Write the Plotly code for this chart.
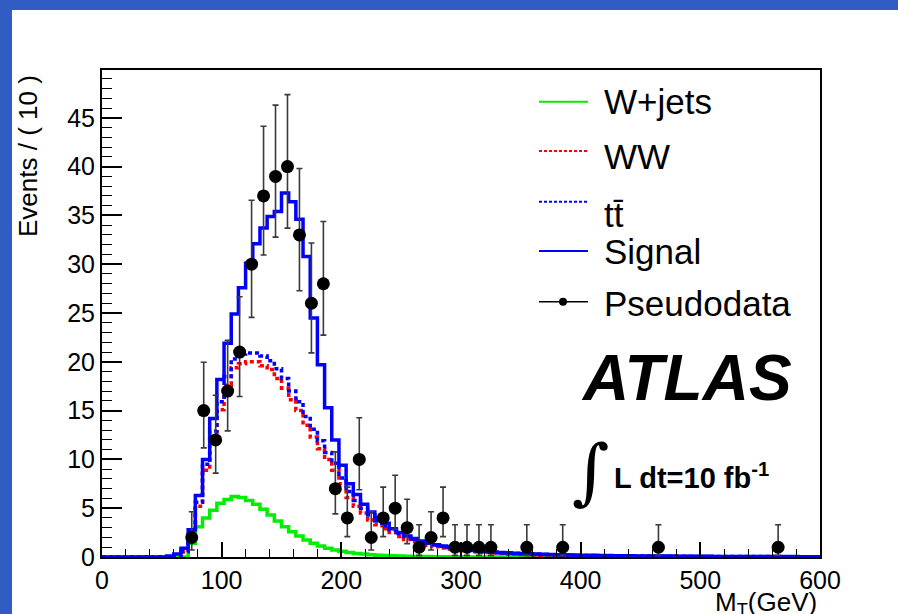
import plotly.graph_objects as go

# MC histograms: 100 bins of 6 GeV from 0 to 600 (cumulative, as drawn)
bin_lo = 0
bin_width = 6
wjets = [
    0, 0, 0, 0, 0, 0, 0, 0, 0, 0,
    0, 0, 1.4, 3.1, 4.0, 4.8, 5.5, 5.9, 6.2, 6.1,
    5.8, 5.4, 4.9, 4.3, 3.7, 3.1, 2.6, 2.15, 1.75, 1.4,
    1.13, 0.9, 0.72, 0.58, 0.46, 0.37, 0.3, 0.24, 0.19, 0.15,
    0.12, 0.1, 0.08, 0.06, 0.05, 0.04, 0.03, 0.03, 0.02, 0.02,
    0.02, 0.01, 0.01, 0.01, 0.01, 0.01, 0.01, 0.01, 0.01, 0.01,
    0.01, 0.01, 0.01, 0.01, 0.01, 0.01, 0, 0, 0, 0,
    0, 0, 0, 0, 0, 0, 0, 0, 0, 0,
    0, 0, 0, 0, 0, 0, 0, 0, 0, 0,
    0, 0, 0, 0, 0, 0, 0, 0, 0, 0,
]
ww = [
    0, 0, 0, 0, 0, 0, 0, 0, 0, 0,
    0, 0.5, 2.3, 5.2, 8.9, 12.2, 15.1, 17.6, 19.4, 19.8,
    20.0, 20.0, 19.6, 19.2, 18.3, 17.3, 16.1, 15.0, 13.5, 12.3,
    11.1, 10.0, 8.9, 7.5, 6.1, 5.2, 4.5, 3.8, 3.3, 2.9,
    2.5, 2.1, 1.8, 1.57, 1.35, 1.2, 1.05, 0.92, 0.82, 0.72,
    0.64, 0.57, 0.50, 0.45, 0.40, 0.36, 0.32, 0.29, 0.26, 0.23,
    0.21, 0.19, 0.17, 0.16, 0.14, 0.13, 0.12, 0.11, 0.10, 0.09,
    0.09, 0.08, 0.08, 0.07, 0.07, 0.06, 0.06, 0.05, 0.05, 0.05,
    0.05, 0.04, 0.04, 0.04, 0.04, 0.03, 0.03, 0.03, 0.03, 0.03,
    0.03, 0.02, 0.02, 0.02, 0.02, 0.02, 0.02, 0.02, 0.02, 0.02,
]
ttbar = [
    0, 0, 0, 0, 0, 0, 0, 0, 0, 0,
    0, 0.6, 2.5, 5.6, 9.5, 12.9, 15.9, 18.5, 20.3, 20.8,
    20.9, 20.9, 20.6, 20.1, 19.3, 18.3, 17.0, 15.9, 14.4, 13.1,
    11.9, 10.7, 9.6, 8.1, 6.7, 5.8, 5.0, 4.3, 3.7, 3.2,
    2.8, 2.4, 2.1, 1.83, 1.6, 1.4, 1.24, 1.1, 0.98, 0.87,
    0.74, 0.66, 0.59, 0.53, 0.48, 0.44, 0.40, 0.36, 0.33, 0.30,
    0.28, 0.26, 0.24, 0.22, 0.20, 0.19, 0.17, 0.16, 0.15, 0.14,
    0.13, 0.12, 0.11, 0.11, 0.10, 0.09, 0.09, 0.08, 0.08, 0.07,
    0.07, 0.07, 0.06, 0.06, 0.06, 0.05, 0.05, 0.05, 0.05, 0.04,
    0.04, 0.04, 0.04, 0.04, 0.03, 0.03, 0.03, 0.03, 0.03, 0.03,
]
signal = [
    0, 0, 0, 0, 0, 0, 0, 0, 0, 0.1,
    0.3, 0.9, 2.8, 6.3, 10.0, 14.2, 18.2, 21.9, 24.9, 27.6,
    30.1, 32.1, 33.7, 34.9, 35.4, 37.3, 36.4, 34.6, 30.8, 24.5,
    19.7, 15.3, 12.0, 9.4, 7.5, 6.4, 5.4, 4.6, 4.0, 3.45,
    2.9, 2.5, 2.15, 1.9, 1.65, 1.4, 1.26, 1.13, 1.03, 0.9,
    0.78, 0.70, 0.63, 0.57, 0.52, 0.47, 0.43, 0.39, 0.36, 0.33,
    0.30, 0.28, 0.26, 0.24, 0.22, 0.20, 0.19, 0.18, 0.17, 0.16,
    0.15, 0.14, 0.13, 0.12, 0.11, 0.11, 0.10, 0.10, 0.09, 0.09,
    0.08, 0.08, 0.07, 0.07, 0.07, 0.06, 0.06, 0.06, 0.05, 0.05,
    0.05, 0.05, 0.04, 0.04, 0.04, 0.04, 0.04, 0.03, 0.03, 0.03,
]

# pseudodata (10 GeV bins, centres) with asymmetric poisson errors
mt_data = [75, 85, 95, 105, 115, 125, 135, 145, 155, 165, 175, 185, 195, 205, 215,
           225, 235, 245, 255, 265, 275, 285, 295, 305, 315, 325, 355, 385, 465, 565]
n_data = [2, 15, 12, 17, 21, 30, 37, 39, 40, 33, 26, 28, 7, 4, 10,
          2, 4, 5, 3, 1, 2, 4, 1, 1, 1, 1, 1, 1, 1, 1]
err_up = [2.64, 4.95, 4.57, 5.20, 5.67, 6.55, 7.14, 7.30, 7.38, 6.81, 6.18, 6.37, 3.77, 3.16, 4.27,
          2.64, 3.16, 3.38, 2.92, 2.30, 2.64, 3.16, 2.30, 2.30, 2.30, 2.30, 2.30, 2.30, 2.30, 2.30]
err_lo = [1.29, 3.82, 3.41, 4.08, 4.55, 5.45, 6.06, 6.22, 6.30, 5.72, 5.08, 5.27, 2.58, 1.91, 3.11,
          1.29, 1.91, 2.16, 1.63, 0.83, 1.29, 1.91, 0.83, 0.83, 0.83, 0.83, 0.83, 0.83, 0.83, 0.83]

FONT = "Liberation Sans, Arial, sans-serif"
W, H = 898, 614
L, R, T, B = 102, 78, 70, 57
PW, PH = W - L - R, H - T - B


def px(x):
    return (x - L) / PW


def py(y):
    return (H - B - y) / PH


def step(vals):
    edges = [bin_lo + i * bin_width for i in range(len(vals) + 1)]
    return edges, list(vals) + [vals[-1]]


def plot_mt():
    fig = go.Figure()
    hists = [
        (wjets, "#00ee00", "solid", 3.5),
        (ww, "#ff0000", "4px,3px", 3.5),
        (ttbar, "#0000ff", "4px,3px", 3.5),
        (signal, "#0000ff", "solid", 3.5),
    ]
    for vals, col, dash, lw in hists:
        x, y = step(vals)
        fig.add_trace(go.Scatter(x=x, y=y, mode="lines", line_shape="hv",
                                 line=dict(color=col, width=lw, dash=dash),
                                 showlegend=False, hoverinfo="skip"))

    fig.add_trace(go.Scatter(
        x=mt_data, y=n_data, mode="markers",
        marker=dict(color="black", size=13, symbol="circle"),
        error_y=dict(type="data", symmetric=False, array=err_up, arrayminus=err_lo,
                     color="#3a3a3a", thickness=1.6, width=3),
        showlegend=False, cliponaxis=False))

    # hand-made legend in ROOT style
    shapes = []
    annos = []
    leg = [
        ("W+jets", "#00ee00", "solid", 101.7, 101.0),
        ("WW", "#ff0000", "3px,2px", 151.0, 156.7),
        ("tt\u0304", "#0000ff", "3px,2px", 201.7, 214.5),
        ("Signal", "#0000ff", "solid", 251.0, 251.0),
        ("Pseudodata", "black", "solid", 301.7, 303.5),
    ]
    for name, col, dash, ly, ty in leg:
        shapes.append(dict(type="line", xref="paper", yref="paper",
                           x0=px(539), x1=px(588), y0=py(ly), y1=py(ly),
                           line=dict(color=col, width=2 if col != "black" else 1.5,
                                     dash=dash)))
        annos.append(dict(text=name, xref="paper", yref="paper",
                          x=px(602), y=py(ty), xanchor="left", yanchor="middle",
                          showarrow=False, font=dict(family=FONT, size=35, color="black")))
    shapes.append(dict(type="circle", xref="paper", yref="paper",
                       x0=px(559), x1=px(567), y0=py(305.7), y1=py(297.7),
                       fillcolor="black", line=dict(color="black", width=0)))

    # blue slide border
    shapes.append(dict(type="rect", xref="paper", yref="paper",
                       x0=px(0), x1=px(W), y0=py(0), y1=py(10),
                       fillcolor="#305cc4", line=dict(width=0)))
    shapes.append(dict(type="rect", xref="paper", yref="paper",
                       x0=px(0), x1=px(12), y0=py(0), y1=py(H),
                       fillcolor="#305cc4", line=dict(width=0)))

    annos += [
        dict(text="<b><i>ATLAS</i></b>", xref="paper", yref="paper",
             x=px(686), y=py(378), xanchor="center", yanchor="middle", showarrow=False,
             font=dict(family=FONT, size=64, color="black")),
        dict(text="\u222b", xref="paper", yref="paper",
             x=px(591), y=py(471), xanchor="center", yanchor="middle", showarrow=False,
             font=dict(family="DejaVu Serif", size=72, color="black")),
        dict(text="<b>L dt=10 fb<sup>-1</sup></b>", xref="paper", yref="paper",
             x=px(612), y=py(476), xanchor="left", yanchor="middle", showarrow=False,
             font=dict(family=FONT, size=29, color="black")),
        dict(text="Events / ( 10 )", xref="paper", yref="paper", textangle=-90,
             x=px(28), y=py(73), xanchor="center", yanchor="top", showarrow=False,
             font=dict(family=FONT, size=26, color="black")),
        dict(text="M<sub>T</sub>(GeV)", xref="paper", yref="paper",
             x=px(819), y=py(603), xanchor="right", yanchor="middle", showarrow=False,
             font=dict(family=FONT, size=26, color="black")),
    ]

    fig.update_layout(
        width=W, height=H, margin=dict(l=L, r=R, t=T, b=B),
        paper_bgcolor="white", plot_bgcolor="white",
        font=dict(family=FONT, color="black"),
        shapes=shapes, annotations=annos, showlegend=False,
    )
    fig.update_xaxes(range=[0, 600], dtick=100, tick0=0, ticks="inside", ticklen=15,
                     tickwidth=1.5, tickcolor="black", showline=True, linecolor="black",
                     linewidth=2, mirror=True, showgrid=False, zeroline=False,
                     tickfont=dict(size=25, color="black"),
                     minor=dict(dtick=20, ticks="inside", ticklen=8, tickwidth=1.2,
                                tickcolor="black", showgrid=False))
    fig.update_yaxes(range=[0, 49.9], dtick=5, tick0=0, ticks="inside", ticklen=20,
                     tickwidth=1.5, tickcolor="black", showline=True, linecolor="black",
                     linewidth=2, mirror=True, showgrid=False, zeroline=False,
                     tickfont=dict(size=25, color="black"),
                     minor=dict(dtick=1, ticks="inside", ticklen=10, tickwidth=1.2,
                                tickcolor="black", showgrid=False))
    # page body has an 8px default margin; drop it so the figure sits at the corner
    fig.write_html("out.html", config={"displayModeBar": False},
                   post_script="document.body.style.margin='0';")


if __name__ == "__main__":
    plot_mt()
